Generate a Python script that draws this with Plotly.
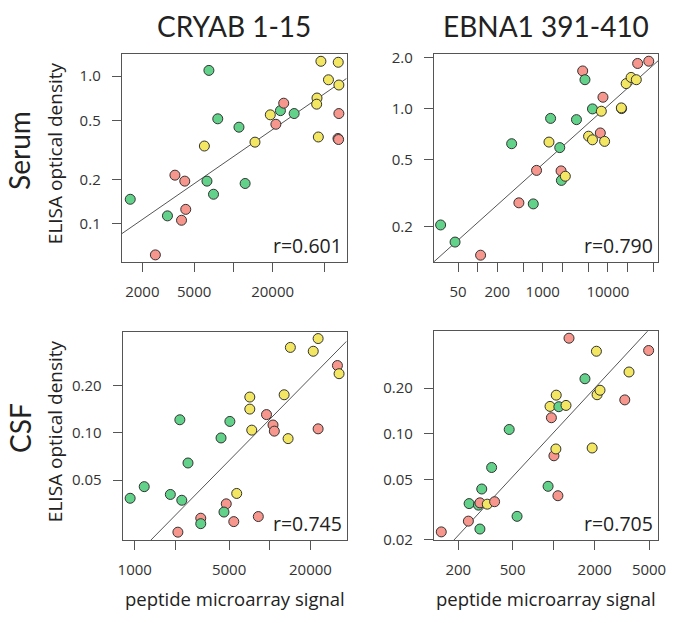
import math
import plotly.graph_objects as go

W, H = 676, 623

# ---------------- data ----------------
# groups: G = green, R = red/salmon, Y = yellow
serum_cryab_x = [1616, 3120, 2520, 3560, 4236, 4310, 4000, 5990, 6270, 7040, 6490, 7590, 11040, 12310, 14650,
                 19200, 21190, 22970, 24340, 29270, 43830, 43570, 44880, 46970, 53680, 63800, 64530, 64530, 63500, 64200]
serum_cryab_y = [0.147, 0.1135, 0.0618, 0.214, 0.195, 0.1256, 0.106, 0.337, 0.195, 0.159, 1.095, 0.515, 0.452, 0.188, 0.358,
                 0.548, 0.473, 0.585, 0.657, 0.559, 0.712, 0.647, 0.388, 1.262, 0.946, 1.243, 0.872, 0.559, 0.379, 0.373]
serum_cryab_g = ["G", "G", "R", "R", "R", "R", "R", "Y", "G", "G", "G", "G", "G", "G", "Y",
                 "Y", "R", "G", "R", "G", "Y", "Y", "Y", "Y", "Y", "Y", "Y", "R", "R", "R"]

serum_ebna_x = [27.0, 45.0, 111, 333, 430, 715, 803, 1246, 1320, 1825, 1911, 1933, 2222, 3294, 4104,
                4449, 5054, 5803, 5803, 7937, 7660, 8408, 8910, 16260, 16100, 19110, 22740, 27360, 28660, 42470]
serum_ebna_y = [0.204, 0.1615, 0.135, 0.619, 0.276, 0.272, 0.430, 0.633, 0.875, 0.587, 0.427, 0.375, 0.397, 0.860, 1.673,
                1.484, 0.686, 0.653, 0.996, 0.965, 0.717, 1.168, 0.639, 1.0, 1.01, 1.407, 1.531, 1.484, 1.853, 1.911]
serum_ebna_g = ["G", "G", "R", "G", "R", "G", "R", "Y", "G", "G", "R", "G", "Y", "G", "R",
                "G", "Y", "Y", "G", "Y", "R", "R", "Y", "Y", "Y", "Y", "Y", "Y", "R", "R"]

csf_cryab_x = [925, 1176, 1836, 2159, 2232, 2088, 2481, 3084, 3084, 4358, 4763, 4581, 5066, 5415, 5692,
               7116, 7116, 7358, 8227, 9460, 10570, 10810, 12780, 13670, 14210, 20990, 22810, 22810, 31700, 32600]
csf_cryab_y = [0.0384, 0.0455, 0.0406, 0.1209, 0.0373, 0.0234, 0.0643, 0.0287, 0.0265, 0.0927, 0.0354, 0.0314, 0.118, 0.0273, 0.0412,
               0.1685, 0.1413, 0.1039, 0.0294, 0.1304, 0.112, 0.1024, 0.1742, 0.0918, 0.348, 0.329, 0.396, 0.1059, 0.267, 0.237]
csf_cryab_g = ["G", "G", "G", "G", "G", "R", "G", "R", "G", "G", "R", "G", "G", "R", "Y",
               "Y", "Y", "Y", "R", "R", "R", "R", "Y", "Y", "Y", "Y", "Y", "R", "R", "Y"]

csf_ebna_x = [150, 237, 240, 288, 281, 288, 297, 326, 369, 351, 472, 539, 910, 940, 962,
              1004, 1038, 1044, 1074, 1091, 1231, 1295, 1695, 1914, 2057, 2080, 2185, 3320, 3566, 4966]
csf_ebna_y = [0.0225, 0.0265, 0.0346, 0.0235, 0.0338, 0.035, 0.0432, 0.0343, 0.0356, 0.0599, 0.1068, 0.0285, 0.045, 0.1517, 0.1277,
              0.0716, 0.0794, 0.180, 0.039, 0.151, 0.154, 0.428, 0.231, 0.0806, 0.351, 0.1812, 0.194, 0.1675, 0.256, 0.355]
csf_ebna_g = ["R", "R", "G", "G", "G", "R", "G", "Y", "R", "G", "G", "G", "G", "Y", "R",
              "R", "Y", "Y", "R", "G", "Y", "R", "G", "Y", "Y", "Y", "Y", "R", "Y", "R"]

# fitted lines (log10 y = a + b * log10 x) and correlation labels
fit_a = [-2.980, -1.369, -4.397, -3.907]
fit_b = [0.609, 0.3464, 0.8706, 0.972]
r_labels = ["r=0.601", "r=0.790", "r=0.745", "r=0.705"]

col_titles = ["CRYAB 1-15", "EBNA1 391-410"]
row_titles = ["Serum", "CSF"]
y_title = "ELISA optical density"
x_title = "peptide microarray signal"

x_tickvals = [[2000, 5000, 10000, 20000, 50000],
              [50, 100, 200, 500, 1000, 2000, 5000, 10000, 20000, 50000],
              [1000, 2000, 5000, 10000, 20000],
              [200, 500, 1000, 2000, 5000]]
x_ticktext = [["2000", "5000", "", "20000", ""],
              ["50", "", "200", "", "1000", "", "", "10000", "", ""],
              ["1000", "", "5000", "", "20000"],
              ["200", "500", "", "2000", "5000"]]
y_tickvals = [[0.1, 0.2, 0.5, 1.0],
              [0.2, 0.5, 1.0, 2.0],
              [0.05, 0.10, 0.20],
              [0.02, 0.05, 0.10, 0.20]]
y_ticktext = [["0.1", "0.2", "0.5", "1.0"],
              ["0.2", "0.5", "1.0", "2.0"],
              ["0.05", "0.10", "0.20"],
              ["0.02", "0.05", "0.10", "0.20"]]

# ---------------- styling / layout ----------------
colors = {"G": "rgb(98,210,138)", "R": "rgb(246,150,140)", "Y": "rgb(242,230,98)"}
x_ranges = [[3.143, 4.869], [1.328, 4.773], [2.911, 4.569], [2.122, 3.766]]
y_ranges = [[-1.257, 0.150], [-0.910, 0.3225], [-1.682, -0.359], [-1.703, -0.322]]
# panel pixel boxes (left, right, top, bottom)
boxes = [(119, 348.3, 48.3, 261.7), (437.3, 666, 48.5, 261.7),
         (120, 348.3, 333.3, 547.3), (437.3, 666, 332.7, 547.3)]

panels = [(serum_cryab_x, serum_cryab_y, serum_cryab_g),
          (serum_ebna_x, serum_ebna_y, serum_ebna_g),
          (csf_cryab_x, csf_cryab_y, csf_cryab_g),
          (csf_ebna_x, csf_ebna_y, csf_ebna_g)]

fig = go.Figure()
layout = dict(width=W, height=H, margin=dict(l=0, r=0, t=0, b=0),
              paper_bgcolor="white", plot_bgcolor="white", showlegend=False,
              font=dict(family="Open Sans", color="#333"))
annotations = []
TICKFONT = dict(family="Open Sans", size=15, color="#333")
LINECOL = "#555"

for i, (xs, ys, gs) in enumerate(panels):
    n = "" if i == 0 else str(i + 1)
    xa, ya = "x" + n, "y" + n
    l, r, t, b = boxes[i]
    layout["xaxis" + n] = dict(
        type="log", range=x_ranges[i], domain=[l / W, r / W], anchor=ya,
        tickvals=x_tickvals[i], ticktext=x_ticktext[i], ticks="outside", ticklen=9,
        tickcolor=LINECOL, showline=True, linecolor=LINECOL, linewidth=1, mirror=True,
        showgrid=False, zeroline=False, tickfont=TICKFONT, ticklabelstandoff=7)
    layout["yaxis" + n] = dict(
        type="log", range=y_ranges[i], domain=[1 - b / H, 1 - t / H], anchor=xa,
        tickvals=y_tickvals[i], ticktext=y_ticktext[i], ticks="outside", ticklen=9,
        tickcolor=LINECOL, showline=True, linecolor=LINECOL, linewidth=1, mirror=True,
        showgrid=False, zeroline=False, tickfont=TICKFONT, ticklabelstandoff=8)
    # regression line
    lx = [10 ** x_ranges[i][0], 10 ** x_ranges[i][1]]
    ly = [10 ** (fit_a[i] + fit_b[i] * math.log10(v)) for v in lx]
    fig.add_trace(go.Scatter(x=lx, y=ly, mode="lines", xaxis=xa, yaxis=ya,
                             line=dict(color="#555", width=1), hoverinfo="skip"))
    fig.add_trace(go.Scatter(
        x=xs, y=ys, mode="markers", xaxis=xa, yaxis=ya, cliponaxis=False,
        marker=dict(size=10, color=[colors[g] for g in gs],
                    line=dict(color="#333", width=1))))
    annotations.append(dict(text=r_labels[i], xref=xa + " domain", yref=ya + " domain",
                            x=1, y=0, xanchor="right", yanchor="bottom", xshift=-3, yshift=1,
                            showarrow=False, font=dict(family="Open Sans", size=19.5, color="#222")))

# column titles
for j, txt in enumerate(col_titles):
    l, r = boxes[j][0], boxes[j][1]
    annotations.append(dict(text=txt, xref="paper", yref="paper", x=(l + r) / 2 / W, y=1 - 20 / H,
                            xanchor="center", yanchor="middle", showarrow=False,
                            font=dict(family="Lato", size=28, color="#222")))
# row titles and y titles
for k, txt in enumerate(row_titles):
    t, b = boxes[2 * k][2], boxes[2 * k][3]
    cy = (t + b) / 2
    annotations.append(dict(text=txt, xref="paper", yref="paper", x=15 / W, y=1 - (cy - 8) / H,
                            xanchor="center", yanchor="middle", textangle=-90, showarrow=False,
                            font=dict(family="Lato", size=28, color="#222")))
    annotations.append(dict(text=y_title, xref="paper", yref="paper", x=51 / W, y=1 - (cy - 5) / H,
                            xanchor="center", yanchor="middle", textangle=-90, showarrow=False,
                            font=dict(family="Open Sans", size=19, color="#222")))
# x titles
for j in range(2):
    l, r = boxes[2 + j][0], boxes[2 + j][1]
    annotations.append(dict(text=x_title, xref="paper", yref="paper", x=(l + r) / 2 / W, y=1 - 607 / H,
                            xanchor="center", yanchor="middle", showarrow=False,
                            font=dict(family="Open Sans", size=18.5, color="#222")))

layout["annotations"] = annotations
fig.update_layout(**layout)
fig.write_html("out.html", config={"displayModeBar": False},
               post_script="document.body.style.margin='0px';document.body.style.overflow='hidden';")
